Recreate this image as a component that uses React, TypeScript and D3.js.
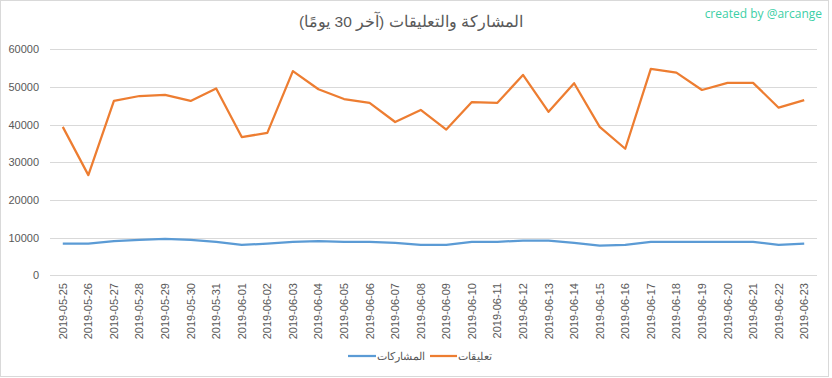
import React from "react";
import * as d3 from "d3";

const dates = [
  "2019-05-25","2019-05-26","2019-05-27","2019-05-28","2019-05-29","2019-05-30","2019-05-31",
  "2019-06-01","2019-06-02","2019-06-03","2019-06-04","2019-06-05","2019-06-06","2019-06-07",
  "2019-06-08","2019-06-09","2019-06-10","2019-06-11","2019-06-12","2019-06-13","2019-06-14",
  "2019-06-15","2019-06-16","2019-06-17","2019-06-18","2019-06-19","2019-06-20","2019-06-21",
  "2019-06-22","2019-06-23",
];
const participations = [
  8400, 8400, 9100, 9400, 9700, 9400, 8850, 8050, 8400, 8850, 9100, 8900, 8900, 8600,
  8100, 8100, 8850, 8900, 9200, 9200, 8600, 7900, 8100, 8850, 8900, 8900, 8900, 8900,
  8100, 8400,
];
const comments = [
  39400, 26600, 46300, 47600, 47900, 46300, 49600, 36700, 37800, 54200, 49400, 46800, 45800, 40700,
  43900, 38700, 46000, 45800, 53200, 43400, 51000, 39400, 33600, 54800, 53800, 49200, 51100, 51100,
  44500, 46500,
];
const yTicks = [0, 10000, 20000, 30000, 40000, 50000, 60000];
const seriesNames = ["المشاركات", "تعليقات"];
const title = "المشاركة والتعليقات (آخر 30 يومًا)";
const credit = "created by @arcange";

const W = 832, H = 378;
const plot = { left: 50, right: 817, top: 49.3, bottom: 275.3 };
const colors = ["#5B9BD5", "#ED7D31"];

export default function App() {
  const x = d3.scaleBand<string>().domain(dates).range([plot.left, plot.right]);
  const y = d3.scaleLinear().domain([0, 60000]).range([plot.bottom, plot.top]);
  const cx = (d: string) => (x(d) as number) + x.bandwidth() / 2;
  const line = d3.line<number>().x((_, i) => cx(dates[i])).y((v) => y(v));
  const font = "'Liberation Sans', Arial, sans-serif";
  const gray = "#595959";
  return (
    <svg width={W} height={H} style={{ position: "absolute", left: 0, top: 0, background: "#fff" }}>
      <rect x={0.5} y={0.5} width={828} height={376} fill="#fff" stroke="#d9d9d9" />
      <text x={411} y={27} textAnchor="middle" fontFamily={font} fontSize={15.5} fill={gray} direction="rtl">
        {title}
      </text>
      <text x={822} y={18} textAnchor="end" fontFamily="'Open Sans', 'DejaVu Sans', sans-serif" fontSize={12} fill="#3ccfa6">
        {credit}
      </text>
      {yTicks.map((t) => (
        <g key={t}>
          <line x1={plot.left} x2={plot.right} y1={Math.round(y(t)) + 0.5} y2={Math.round(y(t)) + 0.5} stroke="#d9d9d9" />
          <text x={39} y={y(t) + 4} textAnchor="end" fontFamily={font} fontSize={11} fill={gray}>
            {t}
          </text>
        </g>
      ))}
      {dates.map((d) => (
        <text
          key={d}
          transform={`translate(${cx(d) + 4},283) rotate(-90)`}
          textAnchor="end"
          fontFamily={font}
          fontSize={11}
          fill={gray}
        >
          {d}
        </text>
      ))}
      <path d={line(participations) || ""} fill="none" stroke={colors[0]} strokeWidth={2.25} strokeLinejoin="round" />
      <path d={line(comments) || ""} fill="none" stroke={colors[1]} strokeWidth={2.25} strokeLinejoin="round" />
      {/* legend */}
      <line x1={348} x2={376} y1={356} y2={356} stroke={colors[0]} strokeWidth={2.25} />
      <text x={377} y={360} fontFamily={font} fontSize={11} fill={gray} textAnchor="start" direction="ltr">
        {seriesNames[0]}
      </text>
      <line x1={430} x2={457} y1={356} y2={356} stroke={colors[1]} strokeWidth={2.25} />
      <text x={458} y={360} fontFamily={font} fontSize={11} fill={gray} textAnchor="start" direction="ltr">
        {seriesNames[1]}
      </text>
    </svg>
  );
}
